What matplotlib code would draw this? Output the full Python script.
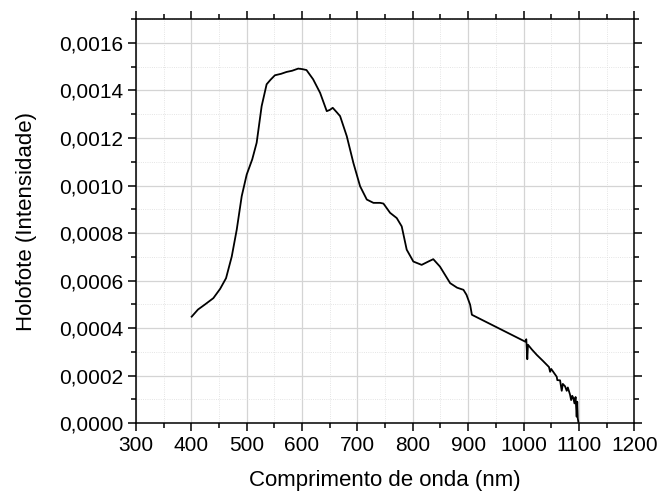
import numpy as np
import matplotlib.pyplot as plt
from matplotlib.ticker import MultipleLocator, FuncFormatter

# valores
comprimento = [400.6, 412, 425, 439.8, 452, 462.7, 473, 482, 491, 500, 510, 518, 527, 536,
               543, 551, 562, 572, 582, 593, 600, 608, 620, 632.6, 644.6, 650, 655.4, 662,
               668.7, 680.7, 692.7, 704.8, 716.9, 728.9, 741, 747, 759, 771, 780, 789, 801,
               816, 828, 837, 849, 858, 867.5, 880, 891.5, 897, 903.6, 906.7,
               1003, 1005, 1006.8, 1008, 1015, 1024, 1035, 1046, 1048, 1050, 1060, 1061,
               1066, 1069, 1071, 1075, 1078, 1080, 1084, 1086, 1088, 1090, 1092, 1094,
               1096, 1097, 1098, 1099]
intensidade = [0.000448, 0.000478, 0.000500, 0.000526, 0.000565, 0.000610, 0.000701, 0.000814,
               0.000955, 0.001046, 0.001110, 0.001180, 0.001334, 0.001426, 0.001445, 0.001464,
               0.001470, 0.001478, 0.001483, 0.001492, 0.001490, 0.001486, 0.001447, 0.001390,
               0.001313, 0.001318, 0.001327, 0.001310, 0.001292, 0.001208, 0.001095, 0.000997,
               0.000941, 0.000927, 0.000927, 0.000924, 0.000885, 0.000863, 0.000828, 0.000730,
               0.000680, 0.000666, 0.000680, 0.000690, 0.000659, 0.000625, 0.000589, 0.000570,
               0.000561, 0.000540, 0.000498, 0.000456,
               0.000343, 0.000353, 0.000269, 0.000330, 0.000310, 0.000287, 0.000262, 0.000236,
               0.000216, 0.000228, 0.000195, 0.000181, 0.000180, 0.000136, 0.000165, 0.000155,
               0.000136, 0.000150, 0.000120, 0.000097, 0.000115, 0.000105, 0.000083, 0.000110,
               0.000027, 0.000090, 0.000020, 0.000005]

plt.rcParams['font.family'] = ['Liberation Sans', 'DejaVu Sans']

fig = plt.figure(figsize=(6.6, 4.92), dpi=100)
ax = fig.add_axes([0.206, 0.140, 0.755, 0.821])

ax.plot(comprimento, intensidade, color='black', lw=1.3)

ax.set_xlim(300, 1200)
ax.set_ylim(0, 0.0017)
ax.xaxis.set_major_locator(MultipleLocator(100))
ax.xaxis.set_minor_locator(MultipleLocator(50))
ax.yaxis.set_major_locator(MultipleLocator(0.0002))
ax.yaxis.set_minor_locator(MultipleLocator(0.0001))
ax.yaxis.set_major_formatter(FuncFormatter(lambda v, p: f"{v:.4f}".replace('.', ',')))

ax.grid(which='major', color='#d4d4d4', lw=0.9, ls='-')
ax.grid(which='minor', color='#dcdcdc', lw=0.6, ls=':')
ax.set_axisbelow(True)

for s in ax.spines.values():
    s.set_linewidth(1.1)
ax.tick_params(which='both', direction='out', top=True, right=True,
               labeltop=False, labelright=False, labelsize=15, width=1.1)
ax.tick_params(which='major', length=6, pad=3)
ax.tick_params(which='minor', length=3.5)

ax.set_xlabel('Comprimento de onda (nm)', fontsize=16, labelpad=11)
ax.set_ylabel('Holofote (Intensidade)', fontsize=16, labelpad=16)

plt.savefig('out.png', dpi=100)
